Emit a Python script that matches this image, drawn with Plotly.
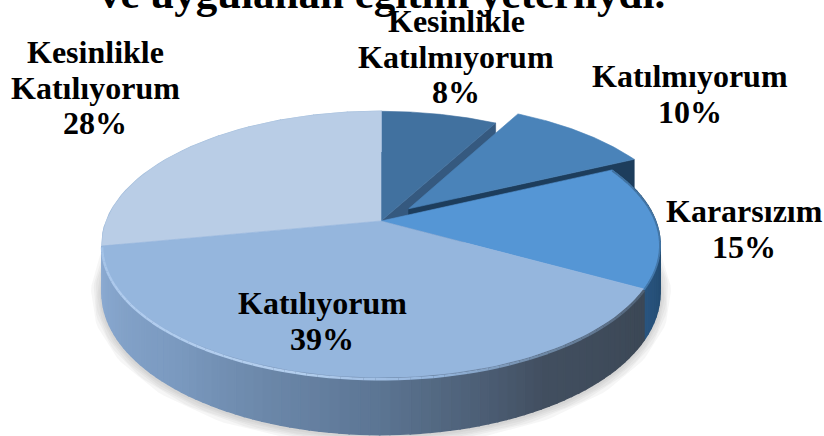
import numpy as np
import plotly.graph_objects as go

# survey data
shares = [8, 10, 15, 39, 28]
label_lines = [
    ["Kesinlikle", "Katılmıyorum"],
    ["Katılmıyorum"],
    ["Kararsızım"],
    ["Katılıyorum"],
    ["Kesinlikle", "Katılıyorum"],
]
title_text = "ve uygulanan eğitim yeterliydi."
top_colors = ["#41719f", "#4a83b9", "#5596d5", "#95b6dd", "#b9cde6"]
wall_colors = ["#35597f", "#1d3d5c", "#24496d", "#3d4a59", "#9db8d8"]

# label placement: centre x, first line y
label_pos = [(456, 21), (690, 76), (744, 211), (322, 303), (95, 52)]
line_step = 35.5

# pseudo 3D projection of the pie disc
CX, CY = 381, 221
RX, RY = 274.6, 129
PERSP = 0.176
DEPTH = 47
EXPLODE = {1: 0.14}


def project(theta, r=1.0, z=0.0, off=(0.0, 0.0)):
    """Angle clockwise from 12 o'clock, radius and height to pixel position."""
    px = r * np.sin(theta) + off[0]
    py = r * np.cos(theta) + off[1]
    w = 1 + PERSP * py
    return CX + RX * px / w, CY - RY * py / w + z * DEPTH / w


def poly(xs, ys, color, line=None):
    return go.Scatter(
        x=list(xs), y=list(ys), mode="lines", fill="toself", fillcolor=color,
        line=dict(width=0.6 if line is None else line, color=color),
        hoverinfo="skip", showlegend=False,
    )


def hex_rgb(c):
    return [int(c[i:i + 2], 16) for i in (1, 3, 5)]


def ramp(t, stops):
    # stops are (degrees, colour), ascending
    deg = [s[0] for s in stops]
    rgb = np.array([hex_rgb(s[1]) for s in stops])
    vals = [np.interp(t, deg, rgb[:, i]) for i in range(3)]
    return "rgb(%d,%d,%d)" % tuple(vals)


cum = np.cumsum([0] + shares) / sum(shares) * 2 * np.pi
offsets = []
for i in range(len(shares)):
    d = EXPLODE.get(i, 0.0)
    mid = (cum[i] + cum[i + 1]) / 2
    offsets.append((d * np.sin(mid), d * np.cos(mid)))


def top_face(i):
    th = np.linspace(cum[i], cum[i + 1], 80)
    x, y = project(th, off=offsets[i])
    ax, ay = project(0.0, r=0.0, off=offsets[i])
    return poly([ax, *x, ax], [ay, *y, ay], top_colors[i])


def cut_wall(i, theta):
    x0, y0 = project(0.0, r=0.0, off=offsets[i])
    x1, y1 = project(theta, off=offsets[i])
    x2, y2 = project(theta, z=1.0, off=offsets[i])
    x3, y3 = project(0.0, r=0.0, z=1.0, off=offsets[i])
    return poly([x0, x1, x2, x3, x0], [y0, y1, y2, y3, y0], wall_colors[i])


def outer_wall(i, stops, n=50):
    traces = []
    edges = np.linspace(cum[i], cum[i + 1], n + 1)
    for a, b in zip(edges[:-1], edges[1:]):
        th = np.linspace(a, b, 4)
        xt, yt = project(th, off=offsets[i])
        xb, yb = project(th[::-1], z=1.0, off=offsets[i])
        traces.append(poly([*xt, *xb, xt[0]], [*yt, *yb, yt[0]],
                           ramp(np.degrees((a + b) / 2), stops), line=1.6))
    return traces


def rim_light(i, stops, z=0.03, width=2.5, n=70):
    traces = []
    edges = np.linspace(cum[i], cum[i + 1], n + 1)
    for a, b in zip(edges[:-1], edges[1:]):
        th = np.linspace(a, b, 4)
        x, y = project(th, z=z, off=offsets[i])
        traces.append(go.Scatter(
            x=x, y=y, mode="lines", hoverinfo="skip", showlegend=False,
            line=dict(width=width, color=ramp(np.degrees((a + b) / 2), stops)),
        ))
    return traces


fig = go.Figure()

# soft shadow below the disc
th_all = np.linspace(np.radians(85), np.radians(285), 160)
sx, sy = project(th_all, z=1.0)
for w in [22, 17, 13, 9, 5]:
    fig.add_trace(go.Scatter(
        x=sx, y=sy + 1, mode="lines", hoverinfo="skip", showlegend=False,
        line=dict(width=w, color="rgba(90,90,90,0.055)"),
    ))

# back to front
fig.add_trace(cut_wall(0, cum[1]))
fig.add_trace(top_face(0))
fig.add_trace(cut_wall(1, cum[2]))
fig.add_trace(top_face(1))

side_5 = [(259, "#93b2d6"), (290, "#a5bfdc")]
side_3 = [(64, "#1d4160"), (100, "#224a6f"), (119, "#2a5580")]
side_4 = [(119, "#3c4856"), (150, "#424f60"), (180, "#5c7593"),
          (220, "#7b9ac0"), (259, "#8cabd2")]
for tr in outer_wall(4, side_5, n=12) + outer_wall(2, side_3, n=24) + outer_wall(3, side_4, n=80):
    fig.add_trace(tr)

fig.add_trace(top_face(4))
fig.add_trace(top_face(2))
fig.add_trace(top_face(3))

rim_4 = [(119, "#4f6074"), (150, "#6f89a6"), (170, "#95b6dd"), (195, "#b4cfef"),
         (240, "#b0ccee"), (259, "#a3c2e6")]
rim_3 = [(64, "#41719f"), (119, "#457aad")]
for tr in rim_light(2, rim_3, z=0.02, width=1.8, n=24) + rim_light(3, rim_4):
    fig.add_trace(tr)

annotations = []
for i, lines in enumerate(label_lines):
    cx, y0 = label_pos[i]
    rows = lines + [f"{shares[i]}%"]
    for k, row in enumerate(rows):
        annotations.append(dict(
            x=cx, y=y0 + k * line_step, text=f"<b>{row}</b>", showarrow=False,
            xanchor="center", yanchor="middle",
            font=dict(family="Liberation Serif", size=32, color="#000000"),
        ))

# title runs off the top of the canvas
annotations.append(dict(
    x=382, xref="x", y=1, yref="paper", yshift=7, text=f"<b>{title_text}</b>",
    showarrow=False, xanchor="center", yanchor="middle",
    font=dict(family="Liberation Serif", size=43, color="#000000"),
))

fig.update_layout(
    width=824, height=436,
    margin=dict(l=0, r=0, t=0, b=0),
    plot_bgcolor="white", paper_bgcolor="white",
    xaxis=dict(range=[0, 824], visible=False, fixedrange=True),
    yaxis=dict(range=[436, 0], visible=False, fixedrange=True),
    annotations=annotations,
    showlegend=False,
)
fig.write_html("out.html", config=dict(displayModeBar=False),
               post_script="document.body.style.margin='0';document.body.style.overflow='hidden';")
